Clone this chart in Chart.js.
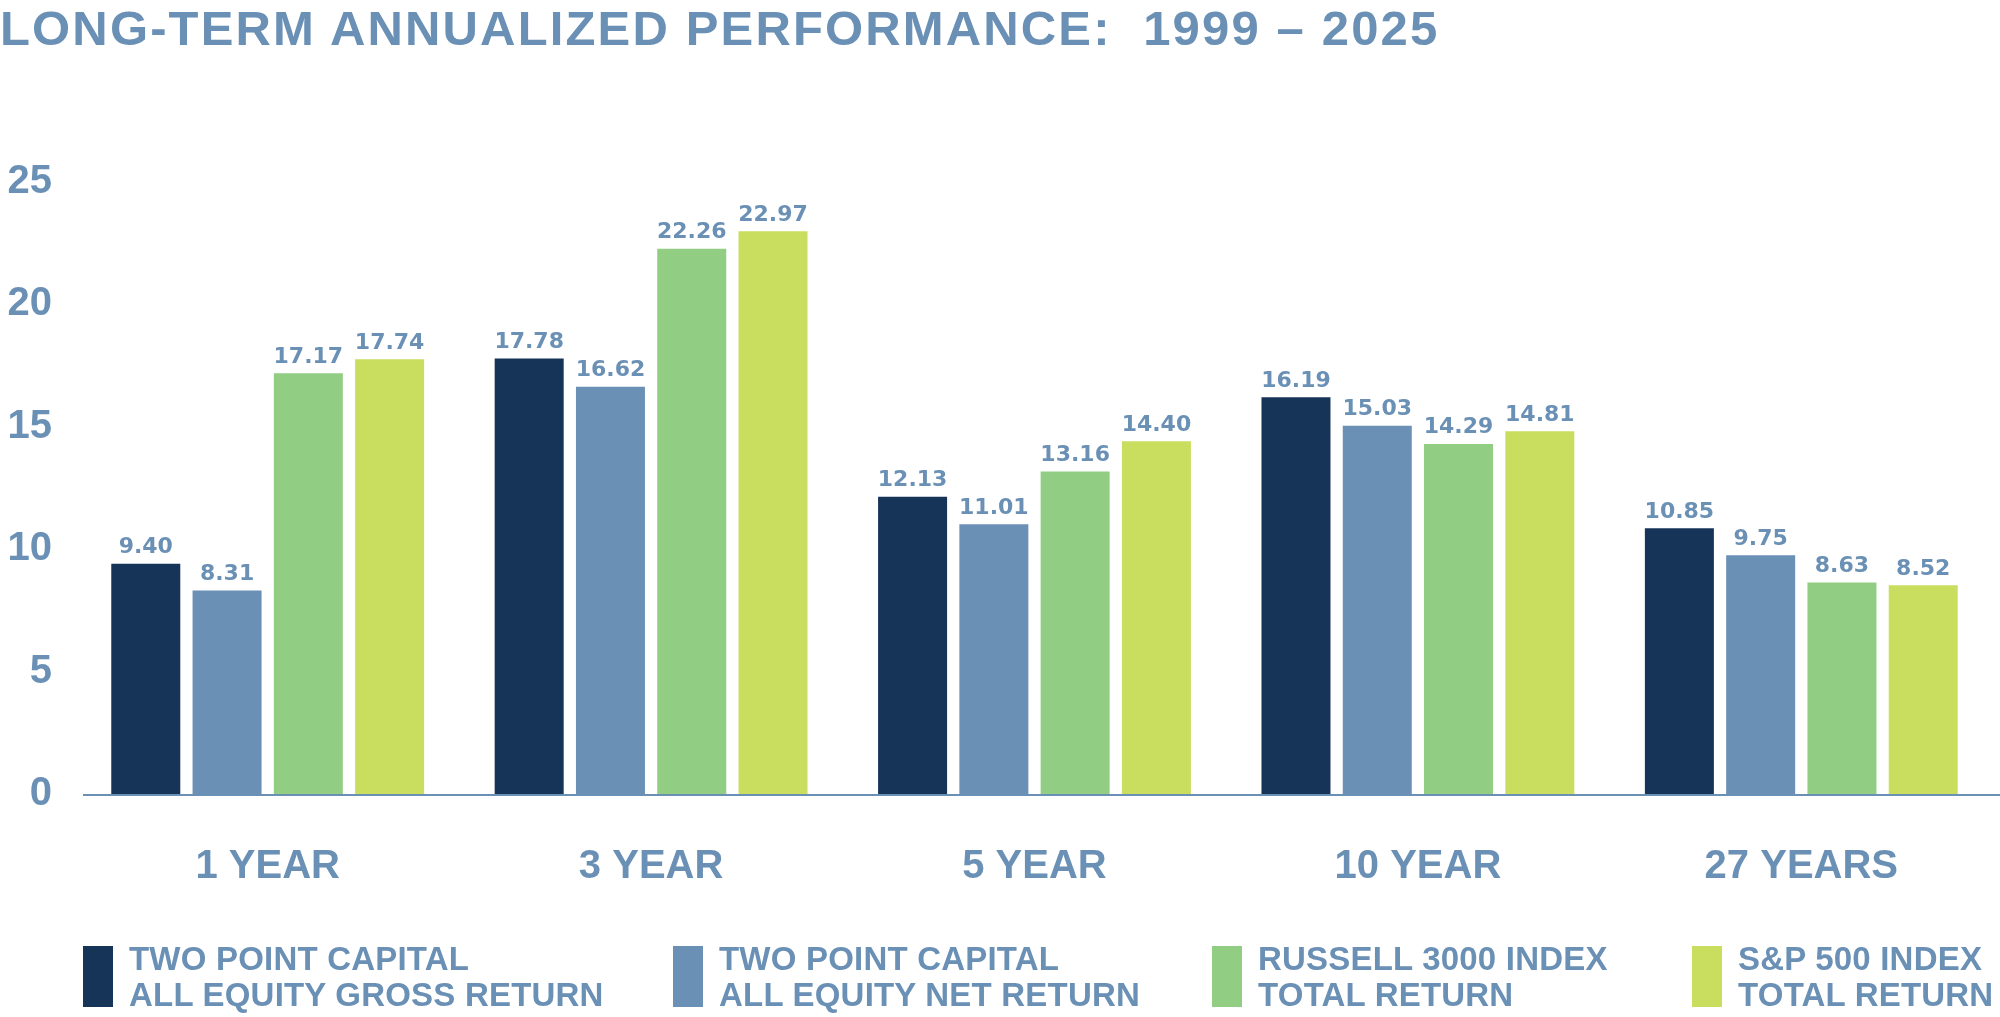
<!DOCTYPE html>
<html><head><meta charset="utf-8">
<script src="https://cdn.jsdelivr.net/npm/chart.js@4.4.1/dist/chart.umd.min.js"></script>
<style>
html,body{margin:0;padding:0;background:#fff;}
#wrap{position:relative;width:2000px;height:1017px;overflow:hidden;background:#fff;}
#title{position:absolute;left:0;top:4px;font-family:"Liberation Sans",Arial,sans-serif;font-weight:bold;font-size:49px;line-height:49px;letter-spacing:2.15px;color:#6a90b5;white-space:pre;}
#c{position:absolute;left:0;top:0;}
#legend{position:absolute;left:0;top:941px;width:2000px;height:76px;}
.item{position:absolute;top:0;display:flex;align-items:flex-start;}
.box{width:30px;height:61px;margin-top:5px;margin-right:16px;}
.txt{font-family:"Liberation Sans",Arial,sans-serif;font-weight:bold;font-size:33px;line-height:36px;letter-spacing:0.2px;color:#6a90b5;white-space:nowrap;}
</style></head>
<body>
<div id="wrap">
  <canvas id="c" width="2000" height="1017"></canvas>
  <div id="title">LONG-TERM ANNUALIZED PERFORMANCE:  1999 – 2025</div>
  <div id="legend"></div>
</div>
<script>
// ---- data ----
const categories = ["1 YEAR", "3 YEAR", "5 YEAR", "10 YEAR", "27 YEARS"];
const grossReturn = [9.40, 17.78, 12.13, 16.19, 10.85];
const netReturn = [8.31, 16.62, 11.01, 15.03, 9.75];
const russell3000 = [17.17, 22.26, 13.16, 14.29, 8.63];
const sp500 = [17.74, 22.97, 14.40, 14.81, 8.52];
const seriesNames = [
  ["TWO POINT CAPITAL", "ALL EQUITY GROSS RETURN"],
  ["TWO POINT CAPITAL", "ALL EQUITY NET RETURN"],
  ["RUSSELL 3000 INDEX", "TOTAL RETURN"],
  ["S&P 500 INDEX", "TOTAL RETURN"]
];
const yTicks = [0, 5, 10, 15, 20, 25];

// ---- styles / layout ----
const textColor = "#6a90b5";
const seriesColors = ["#163358", "#6a90b5", "#91cd82", "#c9de5e"];
const legendLeft = [83, 673, 1212, 1692];
const seriesValues = [grossReturn, netReturn, russell3000, sp500];

const customDraw = {
  id: "customDraw",
  afterDatasetsDraw(chart) {
    const ctx = chart.ctx;
    const y0 = chart.scales.y.getPixelForValue(0);
    ctx.save();
    ctx.fillStyle = textColor;
    ctx.fillRect(chart.chartArea.left + 7, y0, chart.width - chart.chartArea.left - 7, 2);
    ctx.font = 'bold 22px "DejaVu Sans"';
    ctx.textAlign = "center";
    ctx.textBaseline = "alphabetic";
    chart.data.datasets.forEach((ds, i) => {
      const meta = chart.getDatasetMeta(i);
      meta.data.forEach((el, j) => {
        ctx.fillText(ds.data[j].toFixed(2), el.x, el.y - 10.5);
      });
    });
    ctx.restore();
  }
};

const chart = new Chart(document.getElementById("c"), {
  type: "bar",
  data: {
    labels: categories,
    datasets: seriesValues.map((vals, i) => ({
      label: seriesNames[i].join(" "),
      data: vals,
      backgroundColor: seriesColors[i],
      borderWidth: 0,
      categoryPercentage: 0.848,
      barPercentage: 0.849
    }))
  },
  options: {
    responsive: false,
    animation: false,
    devicePixelRatio: 1,
    layout: { padding: { top: 181.5, right: 7, left: 0, bottom: 129 } },
    plugins: { legend: { display: false }, title: { display: false }, tooltip: { enabled: false } },
    scales: {
      x: {
        grid: { display: false, drawTicks: false },
        border: { display: false },
        ticks: { color: textColor, padding: 49, font: { family: '"Liberation Sans", Arial, sans-serif', weight: "bold", size: 40, lineHeight: 1.2 } },
        afterFit(s) { s.height = 94; }
      },
      y: {
        min: 0, max: 25,
        afterBuildTicks(s) { s.ticks = yTicks.map(v => ({ value: v })); },
        grid: { display: false, drawTicks: false },
        border: { display: false },
        ticks: { color: textColor, padding: 24, font: { family: '"Liberation Sans", Arial, sans-serif', weight: "bold", size: 40 } },
        afterFit(s) { s.width = 76; }
      }
    }
  },
  plugins: [customDraw]
});

// ---- HTML legend from series arrays ----
const legend = document.getElementById("legend");
seriesNames.forEach((lines, i) => {
  const item = document.createElement("div");
  item.className = "item";
  item.style.left = legendLeft[i] + "px";
  const box = document.createElement("div");
  box.className = "box";
  box.style.background = seriesColors[i];
  const txt = document.createElement("div");
  txt.className = "txt";
  lines.forEach((l, k) => {
    if (k) txt.appendChild(document.createElement("br"));
    txt.appendChild(document.createTextNode(l));
  });
  item.appendChild(box);
  item.appendChild(txt);
  legend.appendChild(item);
});
</script>
</body></html>
